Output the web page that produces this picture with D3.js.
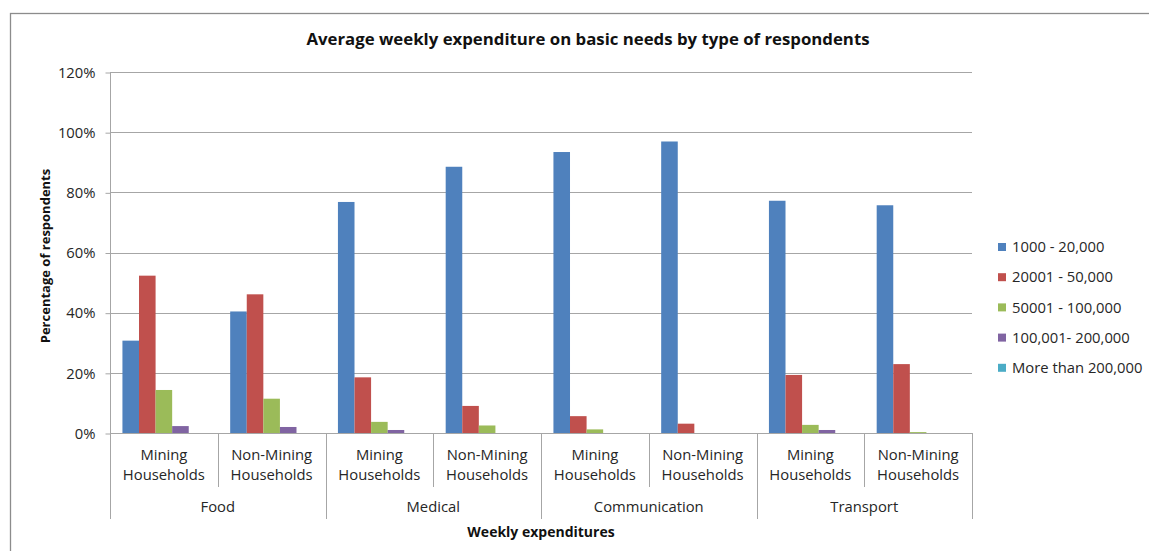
<!DOCTYPE html>
<html>
<head>
<meta charset="utf-8">
<script src="https://cdn.jsdelivr.net/npm/d3@7"></script>
<style>
  html, body { margin: 0; padding: 0; background: #fff; }
  svg { display: block; font-family: "Open Sans", "Liberation Sans", sans-serif; }
</style>
</head>
<body>
<svg id="chart" width="1149" height="551"></svg>
<script>
// Expenditure categories and respondent types
const categories = ["Food", "Medical", "Communication", "Transport"];
const respondentTypes = [["Mining", "Households"], ["Non-Mining", "Households"]];

// Expenditure bands (legend order)
const seriesNames = ["1000 - 20,000", "20001 - 50,000", "50001 - 100,000", "100,001- 200,000", "More than 200,000"];
const seriesColors = ["#4F81BD", "#C0504D", "#9BBB59", "#8064A2", "#4BACC6"];

// Percent of respondents, one value per category × respondent type
const band1 = [30.7, 40.4, 76.8, 88.5, 93.4, 96.9, 77.2, 75.7];
const band2 = [52.3, 46.1, 18.5, 9.0, 5.6, 3.1, 19.3, 22.9];
const band3 = [14.3, 11.4, 3.7, 2.5, 1.2, 0, 2.7, 0.3];
const band4 = [2.3, 2.0, 1.0, 0, 0, 0, 1.0, 0];
const band5 = [0, 0, 0, 0, 0, 0, 0, 0];
const seriesValues = [band1, band2, band3, band4, band5];

const yTicks = [0, 20, 40, 60, 80, 100, 120];

const FONT = "'Open Sans', 'Liberation Sans', sans-serif";
const LABEL_SIZE = 14.8;

const svg = d3.select("#chart");
const plot = { left: 110, right: 972, top: 72, bottom: 433 };

// Outer chart frame
svg.append("rect")
  .attr("x", 10.5).attr("y", 13.5).attr("width", 1300).attr("height", 700)
  .attr("fill", "none").attr("stroke", "#8c8c8c").attr("stroke-width", 1.3);

// Title
svg.append("text")
  .attr("x", 588).attr("y", 45).attr("text-anchor", "middle")
  .attr("font-size", 16.8).attr("font-weight", "bold").attr("fill", "#111")
  .text("Average weekly expenditure on basic needs by type of respondents");

// Scales
const slots = d3.range(categories.length * respondentTypes.length);
const x = d3.scaleBand().domain(slots).range([plot.left, plot.right]).padding(0);
const xInner = d3.scaleBand().domain(d3.range(seriesNames.length))
  .range([0, x.bandwidth()]).paddingInner(0).paddingOuter(0.75);
const y = d3.scaleLinear().domain([0, 120]).range([plot.bottom, plot.top]);

// Horizontal gridlines
svg.append("g").selectAll("line").data(yTicks.filter(t => t > 0)).join("line")
  .attr("x1", plot.left).attr("x2", plot.right)
  .attr("y1", d => Math.round(y(d)) + 0.5).attr("y2", d => Math.round(y(d)) + 0.5)
  .attr("stroke", "#a6a6a6").attr("stroke-width", 1);

// Y axis
const yAxis = svg.append("g")
  .attr("transform", `translate(${plot.left + 0.5},0.5)`)
  .call(d3.axisLeft(y).tickValues(yTicks).tickSize(5).tickPadding(10).tickFormat(d => d + "%"));
yAxis.select(".domain").attr("stroke", "#a6a6a6").attr("d", `M0,${y(0)}V${y(120)}`);
yAxis.selectAll(".tick line").attr("stroke", "#a6a6a6");
yAxis.selectAll(".tick text").attr("font-size", LABEL_SIZE).attr("fill", "#262626")
  .attr("font-family", FONT);

// Y axis title
svg.append("text")
  .attr("transform", `translate(45,${256}) rotate(-90)`)
  .attr("text-anchor", "middle").attr("dy", "0.35em")
  .attr("font-size", 13).attr("font-weight", "bold").attr("fill", "#111")
  .text("Percentage of respondents");

// Bars
const bars = svg.append("g");
seriesValues.forEach((vals, si) => {
  bars.append("g").selectAll("rect").data(vals).join("rect")
    .attr("x", (d, i) => x(i) + xInner(si))
    .attr("width", xInner.bandwidth())
    .attr("y", d => y(d))
    .attr("height", d => y(0) - y(d))
    .attr("fill", seriesColors[si]);
});

// X axis baseline and category separators
const xa = svg.append("g").attr("stroke", "#a6a6a6").attr("stroke-width", 1);
xa.append("line").attr("x1", plot.left).attr("x2", plot.right)
  .attr("y1", plot.bottom + 0.5).attr("y2", plot.bottom + 0.5);
const boundaries = d3.range(slots.length + 1);
xa.selectAll("line.sep").data(boundaries).join("line").attr("class", "sep")
  .attr("x1", i => Math.round(i < slots.length ? x(i) : plot.right) + 0.5)
  .attr("x2", i => Math.round(i < slots.length ? x(i) : plot.right) + 0.5)
  .attr("y1", plot.bottom)
  .attr("y2", i => i % respondentTypes.length === 0 ? 519 : 487);

// Respondent type labels
const sub = svg.append("g").attr("font-size", LABEL_SIZE).attr("fill", "#262626").attr("text-anchor", "middle");
slots.forEach(i => {
  const lines = respondentTypes[i % respondentTypes.length];
  const t = sub.append("text").attr("x", x(i) + x.bandwidth() / 2).attr("y", 460);
  lines.forEach((ln, k) => t.append("tspan").attr("x", x(i) + x.bandwidth() / 2).attr("dy", k ? 20 : 0).text(ln));
});

// Category labels
svg.append("g").attr("font-size", LABEL_SIZE).attr("fill", "#262626").attr("text-anchor", "middle")
  .selectAll("text").data(categories).join("text")
  .attr("x", (d, ci) => x(ci * 2) + x.bandwidth())
  .attr("y", 512)
  .text(d => d);

// X axis title
svg.append("text")
  .attr("x", 541).attr("y", 537).attr("text-anchor", "middle")
  .attr("font-size", 14).attr("font-weight", "bold").attr("fill", "#111")
  .text("Weekly expenditures");

// Legend
const legend = svg.append("g").attr("transform", "translate(998,247)");
seriesNames.forEach((name, i) => {
  const g = legend.append("g").attr("transform", `translate(0,${i * 30.2})`);
  g.append("rect").attr("x", 0).attr("y", -4).attr("width", 8).attr("height", 8).attr("fill", seriesColors[i]);
  g.append("text").attr("x", 14).attr("y", 0).attr("dy", "0.35em")
    .attr("font-size", LABEL_SIZE).attr("fill", "#262626").text(name);
});
</script>
</body>
</html>
